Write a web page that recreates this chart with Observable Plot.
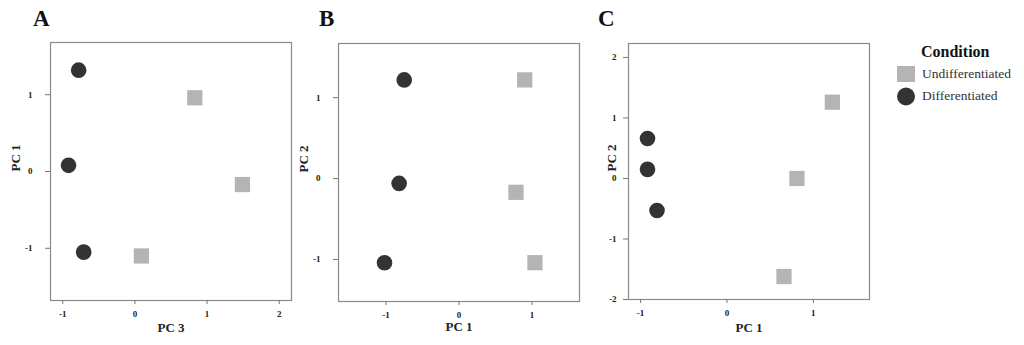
<!DOCTYPE html>
<html><head><meta charset="utf-8">
<script src="https://cdn.jsdelivr.net/npm/d3@7"></script>
<script src="https://cdn.jsdelivr.net/npm/@observablehq/plot@0.6"></script>
<style>
html,body{margin:0;padding:0;background:#fff;}
#wrap{position:relative;width:1024px;height:345px;font-family:"Liberation Serif","DejaVu Serif",serif;color:#111;}
.panel{position:absolute;top:0;}
.letter{position:absolute;font-weight:bold;font-size:23px;font-family:"Liberation Serif",serif;}
#legend{position:absolute;left:896px;top:43px;font-family:"Liberation Serif","DejaVu Serif",serif;}
#legend .item{font-family:"Liberation Serif","DejaVu Serif",serif;font-size:13.5px;color:#333;display:flex;align-items:center;height:22px;}
</style></head>
<body><div id="wrap"></div>
<script>
const conditions = ["Undifferentiated", "Differentiated"];
const colors = ["#b4b4b4", "#333333"];
// Panel A: PC 3 (x) vs PC 1 (y)
const aCondition = ["Differentiated","Differentiated","Differentiated","Undifferentiated","Undifferentiated","Undifferentiated"];
const aX = [-0.78, -0.92, -0.71, 0.83, 1.49, 0.09];
const aY = [1.32, 0.08, -1.05, 0.96, -0.17, -1.10];
// Panel B: PC 1 (x) vs PC 2 (y)
const bCondition = ["Differentiated","Differentiated","Differentiated","Undifferentiated","Undifferentiated","Undifferentiated"];
const bX = [-0.75, -0.82, -1.02, 0.90, 0.78, 1.04];
const bY = [1.22, -0.06, -1.04, 1.22, -0.17, -1.04];
// Panel C: PC 1 (x) vs PC 2 (y)
const cCondition = ["Differentiated","Differentiated","Differentiated","Undifferentiated","Undifferentiated","Undifferentiated"];
const cX = [-0.92, -0.92, -0.81, 1.22, 0.81, 0.66];
const cY = [0.66, 0.15, -0.53, 1.26, 0.00, -1.62];

const aTicksX = [-1, 0, 1, 2], aTicksY = [-1, 0, 1];
const bTicksX = [-1, 0, 1], bTicksY = [-1, 0, 1];
const cTicksX = [-1, 0, 1], cTicksY = [-2, -1, 0, 1, 2];

const wrap = document.getElementById("wrap");
const fmt = d => String(d);

function panel(cfg) {
  const data = cfg.x.map((x, i) => ({x, y: cfg.y[i], c: cfg.cond[i]}));
  const plot = Plot.plot({
    width: 300, height: 345,
    marginLeft: cfg.ml, marginRight: cfg.mr, marginTop: cfg.mt, marginBottom: cfg.mb,
    x: {domain: cfg.xd}, y: {domain: cfg.yd},
    style: {fontFamily: "Liberation Serif, serif", background: "transparent", color: "#111"},
    marks: [
      Plot.frame({stroke: "#8a8a8a", strokeWidth: 1.2}),
      Plot.axisX({ticks: cfg.tx, tickFormat: fmt, tickSize: 4, tickPadding: 6, stroke: "#777", fill: "#222", fontSize: 9, fontWeight: "bold", label: null}),
      Plot.axisY({ticks: cfg.ty, tickFormat: fmt, tickSize: 5, tickPadding: cfg.typ, stroke: "#777", fill: "#222", fontSize: 9, fontWeight: "bold", label: null}),
      Plot.text([cfg.xl], {frameAnchor: "bottom", dy: cfg.xldy, text: d => d, fontSize: 13, fontWeight: "bold", fill: "#222"}),
      Plot.text([cfg.yl], {frameAnchor: "left", dx: -cfg.yldx, rotate: -90, text: d => d, fontSize: 13, fontWeight: "bold", fill: "#222"}),
      Plot.dot(data.filter(d => d.c === "Differentiated"), {x: "x", y: "y", symbol: "circle", r: 7.8, fill: colors[1], stroke: "none"}),
      Plot.dot(data.filter(d => d.c === "Undifferentiated"), {x: "x", y: "y", symbol: "square", r: 8.6, fill: colors[0], stroke: "none"})
    ]
  });
  const div = document.createElement("div");
  div.className = "panel";
  div.style.left = cfg.left + "px";
  div.appendChild(plot);
  wrap.appendChild(div);
  const L = document.createElement("div");
  L.className = "letter";
  L.style.left = cfg.lx + "px"; L.style.top = "6px";
  L.textContent = cfg.letter;
  wrap.appendChild(L);
}

panel({left: 0, ml: 50, mr: 9, mt: 42, mb: 45, xd: [-1.17, 2.17], yd: [-1.68, 1.68], tx: aTicksX, ty: aTicksY, typ: 13,
  x: aX, y: aY, cond: aCondition, xl: "PC 3", yl: "PC 1", xldy: 31, yldx: 35, letter: "A", lx: 33});
panel({left: 290, ml: 48, mr: 11, mt: 43, mb: 44, xd: [-1.65, 1.65], yd: [-1.52, 1.67], tx: bTicksX, ty: bTicksY, typ: 13,
  x: bX, y: bY, cond: bCondition, xl: "PC 1", yl: "PC 2", xldy: 29, yldx: 35, letter: "B", lx: 319});
panel({left: 580, ml: 48, mr: 11, mt: 43, mb: 46, xd: [-1.14, 1.65], yd: [-2, 2.23], tx: cTicksX, ty: cTicksY, typ: 7,
  x: cX, y: cY, cond: cCondition, xl: "PC 1", yl: "PC 2", xldy: 32, yldx: 17, letter: "C", lx: 598});

// Legend
const leg = document.createElement("div");
leg.id = "legend";
const sw = (i) => i === 0
  ? `<svg width="20" height="18" style="vertical-align:middle"><rect x="1" y="1" width="18" height="16" fill="${colors[0]}"/></svg>`
  : `<svg width="20" height="19" style="vertical-align:middle"><circle cx="10" cy="9.5" r="9" fill="${colors[1]}"/></svg>`;
leg.innerHTML = `<div style="font-weight:bold;font-size:16px;margin-left:25px;margin-bottom:2px;color:#111">Condition</div>` +
  conditions.map((c, i) => `<div class="item">${sw(i)}<span style="margin-left:6px">${c}</span></div>`).join("");
wrap.appendChild(leg);
</script></body></html>
